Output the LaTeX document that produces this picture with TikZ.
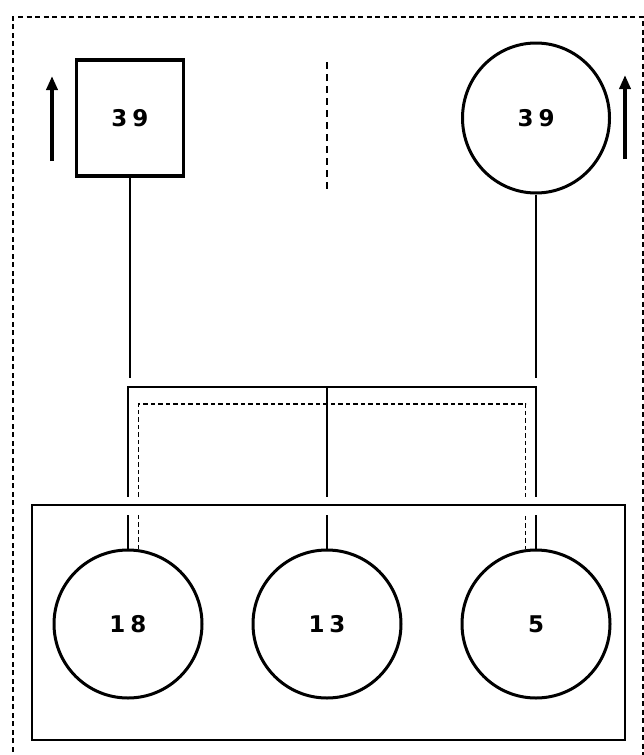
\documentclass[tikz,border=0pt]{standalone}
\usepackage{fontspec}
\setmainfont{DejaVu Sans}
\usetikzlibrary{shapes.geometric,arrows.meta,calc}
\begin{document}
\begin{tikzpicture}[x=1pt,y=-1pt,
  lbl/.style={font=\bfseries\fontsize{23}{23}\selectfont},
  ring/.style={draw,ellipse,line width=3pt,inner sep=0pt,lbl},
  sqbox/.style={draw,rectangle,line width=3.6pt,inner sep=0pt,lbl},
  wire/.style={line width=1.7pt},
  dwire/.style={line width=1.9pt,dash pattern=on 4.5pt off 3pt},
  frame/.style={line width=2pt,dash pattern=on 5pt off 3.5pt},
  midline/.style={line width=1.9pt,dash pattern=on 7pt off 5pt},
  uparrow/.style={line width=4.5pt,-{Triangle[length=14pt,width=11pt]}},
  boxline/.style={draw,rectangle,line width=2pt,inner sep=0pt}]
\useasboundingbox (0,0) rectangle (644,755);
% outer dashed frame
\coordinate (fbl) at (13,760);
\coordinate (ftl) at (13,17);
\coordinate (ftr) at (643,17);
\coordinate (fbr) at (643,760);
\draw[frame] (fbl) -- (ftl) -- (ftr) -- (fbr);
% top row
\node[sqbox,minimum width=107pt,minimum height=116pt] (sq) at (130,118) {3\hspace{5pt}9};
\node[ring,minimum width=147pt,minimum height=150pt] (ct) at (536,118) {3\hspace{5pt}9};
\coordinate (la1) at (52,161);
\coordinate (la2) at (52,76);
\coordinate (ra1) at (625,159);
\coordinate (ra2) at (625,75);
\draw[uparrow] (la1) -- (la2);
\draw[uparrow] (ra1) -- (ra2);
\coordinate (m1) at (327,62);
\coordinate (m2) at (327,189);
\draw[midline] (m1) -- (m2);
% bottom row
\node[ring,minimum width=148pt,minimum height=148pt] (c1) at (128,624) {1\hspace{5pt}8};
\node[ring,minimum width=148pt,minimum height=148pt] (c2) at (327,624) {1\hspace{5pt}3};
\node[ring,minimum width=148pt,minimum height=148pt] (c3) at (536,624) {5};
% upper verticals
\coordinate (lu) at (130,378);
\coordinate (ru) at (536,378);
\draw[wire] (sq.south) -- (lu);
\draw[wire] (ct.south) -- (ru);
% solid bracket
\coordinate (bl) at (128,387);
\coordinate (br) at (536,387);
\draw[wire] (c1.north) -- (bl) -- (br) -- (c3.north);
\draw[wire] (c2.north) -- (c2.north |- bl);
% dashed bracket
\coordinate (dl) at (138,404);
\coordinate (dr) at (526,404);
\draw[dwire] (c1.82) -- (c1.82 |- dl) -- (dr |- dl) -- (c3.98 |- dr) -- (c3.98);
% gaps where lines cross the box edge
\fill[white] (120,497) rectangle (146,515);
\fill[white] (320,497) rectangle (334,515);
\fill[white] (518,497) rectangle (544,515);
% bottom box
\node[boxline,minimum width=593pt,minimum height=235pt] (box) at (328.5,622.5) {};
\end{tikzpicture}
\end{document}
